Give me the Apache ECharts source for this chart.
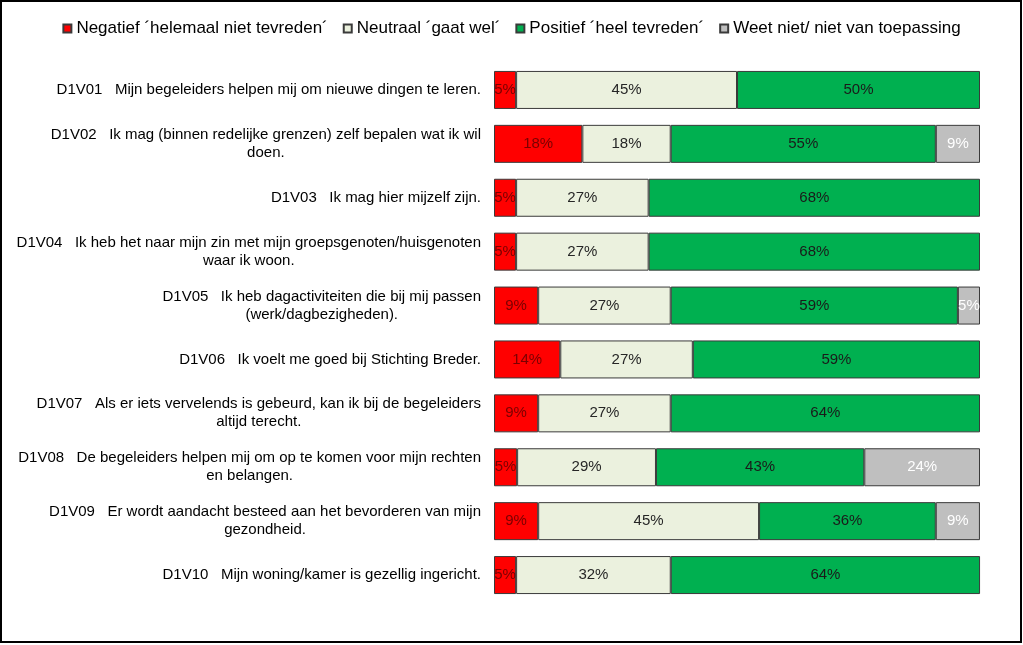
<!DOCTYPE html>
<html>
<head>
<meta charset="utf-8">
<script src="https://cdn.jsdelivr.net/npm/echarts@6/dist/echarts.min.js"></script>
<style>
html,body{margin:0;padding:0;background:#fff;}
#chart{width:1023px;height:645px;}
</style>
</head>
<body>
<div id="chart"></div>
<script>
const categories = [
  'D1V01   Mijn begeleiders helpen mij om nieuwe dingen te leren.',
  'D1V02   Ik mag (binnen redelijke grenzen) zelf bepalen wat ik wil\ndoen.',
  'D1V03   Ik mag hier mijzelf zijn.',
  'D1V04   Ik heb het naar mijn zin met mijn groepsgenoten/huisgenoten\nwaar ik woon.',
  'D1V05   Ik heb dagactiviteiten die bij mij passen\n(werk/dagbezigheden).',
  'D1V06   Ik voelt me goed bij Stichting Breder.',
  'D1V07   Als er iets vervelends is gebeurd, kan ik bij de begeleiders\naltijd terecht.',
  'D1V08   De begeleiders helpen mij om op te komen voor mijn rechten\nen belangen.',
  'D1V09   Er wordt aandacht besteed aan het bevorderen van mijn\ngezondheid.',
  'D1V10   Mijn woning/kamer is gezellig ingericht.'
];
const seriesNames = [
  'Negatief \u00b4helemaal niet tevreden\u00b4',
  'Neutraal \u00b4gaat wel\u00b4',
  'Positief \u00b4heel tevreden\u00b4',
  'Weet niet/ niet van toepassing'
];
const negatief = [4.55, 18.18, 4.55, 4.55, 9.09, 13.64, 9.09, 4.76, 9.09, 4.55];
const neutraal = [45.45, 18.18, 27.27, 27.27, 27.27, 27.27, 27.27, 28.57, 45.45, 31.82];
const positief = [50.00, 54.55, 68.18, 68.18, 59.09, 59.09, 63.64, 42.86, 36.36, 63.64];
const weetNiet = [0, 9.09, 0, 0, 4.55, 0, 0, 23.81, 9.09, 0];

const colors = ['#FF0000', '#EBF1DE', '#00B050', '#BFBFBF'];
const labelColors = ['#7a0000', '#262626', '#1a1a1a', '#ffffff'];
const values = [negatief, neutraal, positief, weetNiet];
const FONT = '"Liberation Sans", Arial, sans-serif';

const chart = echarts.init(document.getElementById('chart'), null, {renderer: 'canvas'});
chart.setOption({
  animation: false,
  backgroundColor: '#fff',
  textStyle: {fontFamily: FONT},
  graphic: [{
    type: 'rect', silent: true, z: 100,
    shape: {x: 1, y: 1, width: 1020, height: 641},
    style: {fill: 'none', stroke: '#000', lineWidth: 2}
  }],
  legend: {
    top: 15, left: 'center',
    itemWidth: 8, itemHeight: 8, itemGap: 15,
    icon: 'rect',
    textStyle: {fontSize: 17, color: '#000', fontFamily: FONT},
    data: seriesNames
  },
  grid: {left: 494, width: 486, top: 63, bottom: 43, containLabel: false},
  xAxis: {type: 'value', min: 0, max: 100, show: false},
  yAxis: {
    type: 'category', inverse: true, data: categories,
    axisLine: {show: false}, axisTick: {show: false},
    axisLabel: {
      margin: 13, fontSize: 15, color: '#000', fontFamily: FONT, lineHeight: 18,
      formatter: function (v) {
        return v.split('\n').map(function (l) { return '{c|' + l + '}'; }).join('\n');
      },
      rich: {c: {align: 'center', fontSize: 15, lineHeight: 18, color: '#000', fontFamily: FONT}}
    }
  },
  series: values.map(function (arr, i) {
    return {
      name: seriesNames[i], type: 'bar', stack: 'total', barWidth: 38,
      data: arr.map(function (v) { return v > 0 ? v : null; }),
      itemStyle: {color: colors[i], borderColor: '#3a3a3a', borderWidth: 1},
      label: {
        show: true, position: 'inside', fontSize: 15, color: labelColors[i], fontFamily: FONT,
        formatter: function (p) { return p.value > 0 ? Math.round(p.value) + '%' : ''; }
      }
    };
  })
});
</script>
</body>
</html>
